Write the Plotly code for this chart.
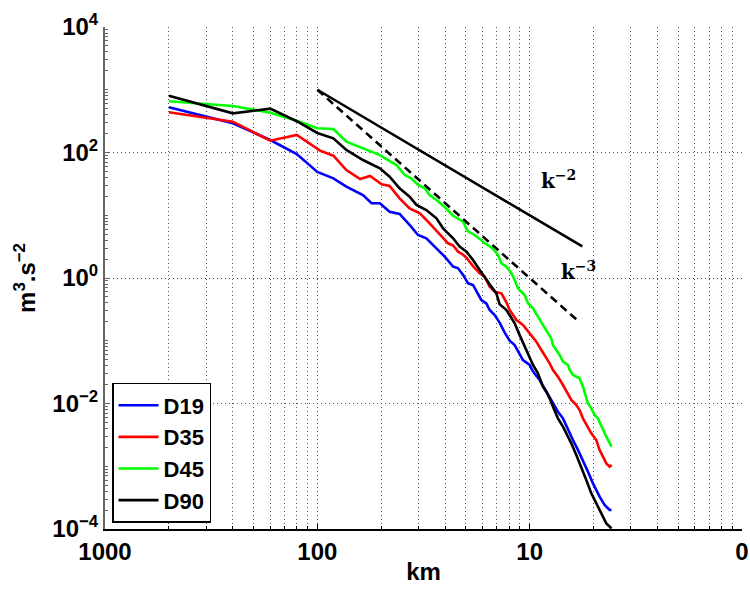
import numpy as np
import plotly.graph_objects as go

# wavenumber k in 1/km (axis labelled by wavelength in km)
k_d19 = [0.002, 0.004, 0.006, 0.008, 0.010, 0.0119, 0.0137, 0.0164, 0.0180, 0.0197, 0.0219, 0.0244,
         0.0272, 0.0298, 0.0326, 0.0364, 0.0398, 0.0436, 0.0460, 0.0486, 0.0513, 0.0541, 0.0571, 0.0592,
         0.0625, 0.0648, 0.0684, 0.0722, 0.0763, 0.0805, 0.0850, 0.0897, 0.0930, 0.100, 0.1037, 0.1114,
         0.1198, 0.1288, 0.1359, 0.1435, 0.1515, 0.1599, 0.1688, 0.1782, 0.1882, 0.1986, 0.2059, 0.2135,
         0.2254, 0.2380, 0.243]
e_d19 = [525, 292, 158, 94.6, 49, 38.8, 28.5, 21.0, 15.5, 15.5, 11.4, 10.5,
         7.0, 4.85, 4.29, 2.97, 2.19, 1.52, 1.43, 1.12, 0.822, 0.774, 0.570, 0.446,
         0.395, 0.309, 0.257, 0.195, 0.135, 0.10, 0.0855, 0.063, 0.0493, 0.0411, 0.0322, 0.0237,
         0.0154, 0.01006, 0.00741, 0.0058, 0.00378, 0.00262, 0.00182, 0.00126, 0.00082, 0.000534, 0.000418, 0.000328,
         0.000241, 0.000201, 0.000201]

k_d35 = [0.002, 0.004, 0.006, 0.008, 0.0103, 0.0119, 0.0137, 0.0159, 0.0177, 0.0201, 0.0219, 0.0244,
         0.0272, 0.0304, 0.0338, 0.0377, 0.0413, 0.0436, 0.0460, 0.0486, 0.0504, 0.0541, 0.0582, 0.0614,
         0.0648, 0.0684, 0.0736, 0.0777, 0.0805, 0.0866, 0.0930, 0.100, 0.1075, 0.1135, 0.1176, 0.1242,
         0.1288, 0.1359, 0.1435, 0.1515, 0.1571, 0.1658, 0.1719, 0.1782, 0.1848, 0.1951, 0.2059, 0.2135,
         0.2214, 0.2296, 0.2380, 0.243]
e_d35 = [437, 310, 154, 190, 107, 89, 52.6, 37.8, 42.2, 31.1, 29.3, 18.6,
         12.9, 10.7, 7.43, 5.0, 3.57, 3.3, 2.63, 2.35, 2.1, 1.55, 1.19, 1.05,
         0.728, 0.606, 0.570, 0.41, 0.31, 0.214, 0.178, 0.131, 0.0967, 0.0712, 0.0593, 0.0437,
         0.0342, 0.0268, 0.0197, 0.01453, 0.01137, 0.00946, 0.00788, 0.0058, 0.00454, 0.00335, 0.00262, 0.00181,
         0.00142, 0.00111, 0.000985, 0.00105]

k_d45 = [0.002, 0.004, 0.006, 0.008, 0.010, 0.0119, 0.0137, 0.0164, 0.0197, 0.0236, 0.0258, 0.0277,
         0.0298, 0.0321, 0.0338, 0.0364, 0.0377, 0.0405, 0.0436, 0.0486, 0.0510, 0.0550, 0.0582, 0.0614,
         0.0648, 0.0672, 0.0710, 0.0736, 0.0777, 0.0820, 0.0850, 0.0881, 0.0947, 0.0982, 0.1037, 0.1115,
         0.1198, 0.1264, 0.1288, 0.1384, 0.1435, 0.1515, 0.1543, 0.1599, 0.1719, 0.1782, 0.1848, 0.1882,
         0.1951, 0.2022, 0.2097, 0.2214, 0.2296, 0.243]
e_d45 = [655, 551, 431, 321, 243, 237, 149, 116, 91, 63, 43.8, 38.8,
         30.3, 26.9, 21, 17.5, 15.9, 12.8, 9.8, 7.9, 5.6, 4.85, 4.2, 3.57,
         3.2, 2.9, 2.33, 1.71, 1.52, 1.19, 0.93, 0.684, 0.536, 0.395, 0.329, 0.214,
         0.145, 0.109, 0.085, 0.0593, 0.0464, 0.0411, 0.0342, 0.0285, 0.0252, 0.0185, 0.01285, 0.01006,
         0.00838, 0.00656, 0.0058, 0.00378, 0.00296, 0.00205]

k_d90 = [0.002, 0.004, 0.006, 0.008, 0.010, 0.0119, 0.0137, 0.0164, 0.0197, 0.0219, 0.0244, 0.0272,
         0.0293, 0.0326, 0.0364, 0.0391, 0.0436, 0.0468, 0.0504, 0.0541, 0.0582, 0.0625, 0.0660, 0.0697,
         0.0722, 0.0777, 0.0820, 0.0850, 0.0897, 0.0965, 0.100, 0.1037, 0.1094, 0.1155, 0.1198, 0.1242,
         0.1288, 0.1359, 0.1435, 0.1488, 0.1571, 0.1658, 0.1750, 0.1848, 0.1951, 0.2059, 0.2175, 0.2296,
         0.243]
e_d90 = [803, 421, 499, 315, 205, 168, 110, 75.9, 55.9, 41.2, 26.9, 19.8,
         14.6, 12.1, 8.93, 6.19, 4.29, 3.16, 2.63, 1.94, 1.34, 0.93, 0.728, 0.570,
         0.38, 0.309, 0.23, 0.19, 0.123, 0.0712, 0.0525, 0.0411, 0.0302, 0.0185, 0.0154, 0.0121,
         0.0089, 0.0058, 0.00427, 0.00335, 0.00232, 0.00151, 0.000985, 0.000604, 0.00037, 0.000256, 0.000178, 0.000123,
         0.000102]

# reference slopes
ref2_k = [0.01, 0.177]
ref2_e = [1000, 3.19]
ref3_k = [0.01, 0.169]
ref3_e = [1000, 0.207]

x_tickvals = [0.001, 0.01, 0.1, 1]
x_ticktext = ["1000", "100", "10", "0"]
y_tickvals = [1e-4, 1e-2, 1, 1e2, 1e4]
y_ticktext = ["10<sup>−4</sup>", "10<sup>−2</sup>", "10<sup>0</sup>", "10<sup>2</sup>", "10<sup>4</sup>"]

series = [("D19", k_d19, e_d19, "#0000ff"),
          ("D35", k_d35, e_d35, "#ff0000"),
          ("D45", k_d45, e_d45, "#00ff00"),
          ("D90", k_d90, e_d90, "#000000")]

FONT = "Liberation Sans, Arial, sans-serif"

fig = go.Figure()
for name, kx, ey, col in series:
    fig.add_trace(go.Scatter(x=kx, y=ey, mode="lines", name=name,
                             line=dict(color=col, width=2.6)))

fig.add_trace(go.Scatter(x=ref2_k, y=ref2_e, mode="lines", showlegend=False,
                         line=dict(color="black", width=2.6)))
fig.add_trace(go.Scatter(x=ref3_k, y=ref3_e, mode="lines", showlegend=False,
                         line=dict(color="black", width=2.6, dash="8px,5px")))

grid_col = "#555555"
fig.update_xaxes(type="log", range=[-3, 0], tickmode="array", tickvals=x_tickvals, ticktext=x_ticktext,
                 automargin=False,
                 showgrid=True, gridcolor=grid_col, gridwidth=1, griddash="1px,3px",
                 showline=True, linecolor="black", linewidth=1.5, mirror=False,
                 ticks="inside", ticklen=5, tickcolor="black",
                 minor=dict(dtick="D1", ticks="inside", ticklen=3, tickcolor="black",
                            showgrid=True, gridcolor=grid_col, gridwidth=1, griddash="1px,3px"),
                 tickfont=dict(family=FONT, size=24, color="black", weight="bold"),
                 title=dict(text="km", font=dict(family=FONT, size=24, color="black", weight="bold"),
                            standoff=0),
                 zeroline=False)
fig.update_yaxes(type="log", range=[-4, 4], tickmode="array", tickvals=y_tickvals, ticktext=y_ticktext,
                 automargin=False,
                 showgrid=True, gridcolor=grid_col, gridwidth=1, griddash="1px,3px",
                 showline=True, linecolor="#666666", linewidth=2, mirror=False,
                 ticks="inside", ticklen=5, tickcolor="#666666",
                 minor=dict(dtick="D1", ticks="inside", ticklen=3, tickcolor="#666666", showgrid=False),
                 tickfont=dict(family=FONT, size=24, color="black", weight="bold"),
                 title=dict(text="m<sup>3</sup>.s<sup>−2</sup>",
                            font=dict(family=FONT, size=24, color="black", weight="bold"),
                            standoff=10),
                 zeroline=False)

ann_font = dict(family="DejaVu Serif, Liberation Serif, serif", size=20, color="black", weight="bold")
fig.add_annotation(x=np.log10(0.137), y=np.log10(36.5), xref="x", yref="y", text="k<sup>−2</sup>",
                   showarrow=False, font=ann_font)
fig.add_annotation(x=np.log10(0.170), y=np.log10(1.29), xref="x", yref="y", text="k<sup>−3</sup>",
                   showarrow=False, font=ann_font)

fig.update_layout(width=750, height=591, margin=dict(l=105, r=8, t=27, b=62),
                  paper_bgcolor="white", plot_bgcolor="white",
                  legend=dict(x=0.011, y=0.012, xanchor="left", yanchor="bottom",
                              bgcolor="white", bordercolor="black", borderwidth=1.5,
                              font=dict(family=FONT, size=22, color="black", weight="bold"),
                              tracegroupgap=0, itemwidth=40),
                  showlegend=True)

fig.write_html("out.html", config={"displayModeBar": False},
               post_script="document.body.style.margin='0px';document.body.style.overflow='hidden';")
